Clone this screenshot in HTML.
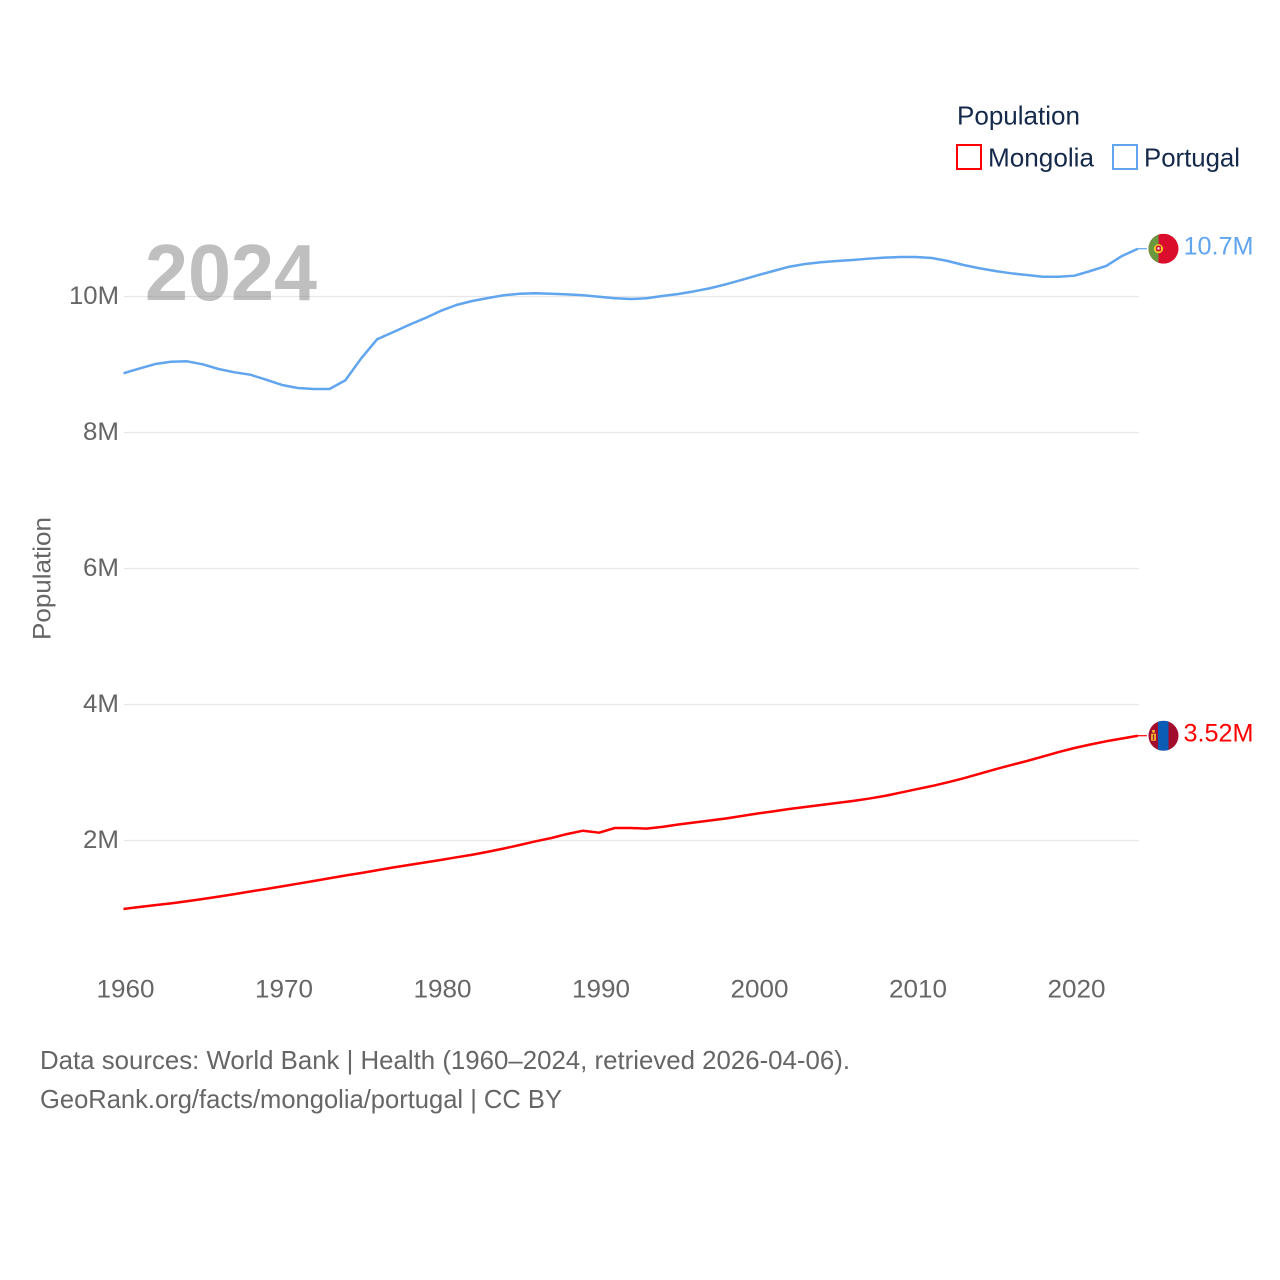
<!DOCTYPE html>
<html lang="en">
<head>
<meta charset="utf-8">
<title>Population: Mongolia and Portugal</title>
<style>
html,body{margin:0;padding:0;background:#fff;width:1280px;height:1280px;overflow:hidden}
svg{display:block;font-family:"Liberation Sans",sans-serif}
</style>
</head>
<body>
<svg id="chart" width="1280" height="1280" viewBox="0 0 1280 1280" xmlns="http://www.w3.org/2000/svg">
  <defs>
    <clipPath id="clip-pt"><circle cx="15" cy="15" r="15"/></clipPath>
    <clipPath id="clip-mn"><circle cx="15" cy="15" r="15"/></clipPath>
  </defs>
  <rect width="1280" height="1280" fill="#fff"/>
  <g id="grid"></g>
  <g id="yticks"></g>
  <g id="xticks"></g>
  <text transform="translate(50.5,640) rotate(-90)" font-size="25" fill="#666" textLength="123" lengthAdjust="spacingAndGlyphs">Population</text>
  <g id="series"></g>
  <text x="145" y="300" font-size="80" font-weight="700" fill="#808080" fill-opacity="0.5" textLength="172" lengthAdjust="spacingAndGlyphs">2024</text>

  <g>
    <text x="957" y="124.5" font-size="26" fill="#15294b" textLength="123" lengthAdjust="spacingAndGlyphs">Population</text>
    <g>
      <rect x="957" y="145" width="24" height="24" fill="none" stroke="#ff0000" stroke-width="2"/>
      <text x="988" y="166.5" font-size="26" fill="#15294b" textLength="106" lengthAdjust="spacingAndGlyphs">Mongolia</text>
    </g>
    <g>
      <rect x="1113" y="145" width="24" height="24" fill="none" stroke="#60a5ee" stroke-width="2"/>
      <text x="1144" y="166.5" font-size="26" fill="#15294b" textLength="96" lengthAdjust="spacingAndGlyphs">Portugal</text>
    </g>
  </g>

  <g id="flag-portugal">
    <g clip-path="url(#clip-pt)">
      <rect width="30" height="30" fill="#da0d2c"/>
      <rect width="10" height="30" fill="#6a983f"/>
      <circle cx="10" cy="15" r="4.6" fill="#f7c72d"/>
      <rect x="7.6" y="12" width="4.8" height="5.6" rx="1.4" fill="#c8102e"/>
      <rect x="9" y="13.6" width="2" height="2.2" fill="#fff"/>
    </g>
  </g>
  <g id="flag-mongolia">
    <g clip-path="url(#clip-mn)">
      <rect width="30" height="30" fill="#a30d2d"/>
      <rect x="9.5" width="10.5" height="30" fill="#0b5cb5"/>
      <rect x="2.6" y="13" width="4.8" height="7" fill="#f2b632"/>
      <rect x="4.4" y="14" width="1.2" height="5" fill="#a30d2d"/>
      <circle cx="5" cy="10.5" r="1.5" fill="#f2b632"/>
    </g>
  </g>

  <g id="labels"></g>

  <g>
    <text x="40" y="1069" font-size="26" fill="#666" textLength="810" lengthAdjust="spacingAndGlyphs">Data sources: World Bank | Health (1960–2024, retrieved 2026-04-06).</text>
    <text x="40" y="1108" font-size="26" fill="#666" textLength="522" lengthAdjust="spacingAndGlyphs">GeoRank.org/facts/mongolia/portugal | CC BY</text>
  </g>
</svg>

<script>
const startYear = 1960;
const xTickYears = [1960, 1970, 1980, 1990, 2000, 2010, 2020];
const yTickValues = [2, 4, 6, 8, 10];
const yTickLabels = ["2M", "4M", "6M", "8M", "10M"];
const portugalValues = [
  8.871, 8.941, 9.007, 9.041, 9.047, 9.003, 8.934, 8.885, 8.85, 8.776,
  8.699, 8.654, 8.64, 8.64, 8.768, 9.091, 9.371, 9.474, 9.581, 9.679,
  9.787, 9.875, 9.934, 9.978, 10.018, 10.041, 10.047, 10.041, 10.032, 10.018,
  9.997, 9.974, 9.963, 9.974, 10.007, 10.037, 10.076, 10.121, 10.179, 10.243,
  10.312, 10.375, 10.438, 10.478, 10.503, 10.522, 10.537, 10.556, 10.571, 10.581,
  10.581, 10.566, 10.522, 10.463, 10.415, 10.375, 10.341, 10.316, 10.291, 10.291,
  10.306, 10.375, 10.449, 10.596, 10.703
];
const mongoliaValues = [
  0.993, 1.022, 1.049, 1.076, 1.106, 1.14, 1.175, 1.212, 1.25, 1.287,
  1.325, 1.365, 1.405, 1.445, 1.485, 1.522, 1.563, 1.603, 1.64, 1.676,
  1.713, 1.753, 1.791, 1.835, 1.882, 1.934, 1.988, 2.037, 2.096, 2.144,
  2.115, 2.184, 2.184, 2.174, 2.201, 2.235, 2.265, 2.294, 2.324, 2.36,
  2.397, 2.429, 2.463, 2.493, 2.522, 2.551, 2.581, 2.615, 2.654, 2.703,
  2.753, 2.801, 2.856, 2.915, 2.981, 3.047, 3.11, 3.169, 3.235, 3.301,
  3.36, 3.412, 3.459, 3.5, 3.541
];
const portugalLabel = "10.7M";
const mongoliaLabel = "3.52M";

const NS = "http://www.w3.org/2000/svg";
function xScale(year) { return 123.5 + (year - 1960) * 15.85; }
function yScale(value) { return 296.5 + (10 - value) * 68; }
function make(tag, attrs, parent) {
  const el = document.createElementNS(NS, tag);
  for (const k in attrs) el.setAttribute(k, attrs[k]);
  parent.appendChild(el);
  return el;
}

const gridG = document.getElementById("grid");
const yG = document.getElementById("yticks");
const xG = document.getElementById("xticks");
const seriesG = document.getElementById("series");
const labelsG = document.getElementById("labels");
const lastYear = startYear + portugalValues.length - 1;

yTickValues.forEach(function (v, i) {
  const y = yScale(v);
  const line = make("line", { x1: 124, x2: xScale(lastYear) + 1, y1: y, y2: y, stroke: "#e6e6e6", "stroke-width": 1.3 }, gridG);
  
  
  const t = make("text", { x: 119, y: y + 7.5, "text-anchor": "end", "font-size": 25, fill: "#666", textLength: yTickLabels[i].length === 3 ? 50 : 36, lengthAdjust: "spacingAndGlyphs" }, yG);
  t.textContent = yTickLabels[i];
  
  
});

xTickYears.forEach(function (yr) {
  const t = make("text", { x: xScale(yr) + 2, y: 997.5, "text-anchor": "middle", "font-size": 25, fill: "#666", textLength: 58, lengthAdjust: "spacingAndGlyphs" }, xG);
  t.textContent = String(yr);
  
  
});

function drawSeries(values, color, name, labelText, labelWidth, flagId) {
  const pts = values.map(function (v, i) {
    return xScale(startYear + i).toFixed(2) + "," + yScale(v).toFixed(2);
  }).join(" ");
  const line = make("polyline", { points: pts, fill: "none", stroke: color, "stroke-width": 2.5, "stroke-linejoin": "round" }, seriesG);
  
  

  const endX = xScale(lastYear);
  const endY = yScale(values[values.length - 1]);
  const leader = make("line", { x1: endX, x2: endX + 9, y1: endY, y2: endY, stroke: color, "stroke-width": 1.2 }, seriesG);
  
  

  document.getElementById(flagId).setAttribute("transform", "translate(" + (endX + 10.6) + "," + (endY - 15) + ")");

  const label = make("text", { x: 1253.5, y: endY + 6, "text-anchor": "end", "font-size": 25, fill: color, textLength: labelWidth, lengthAdjust: "spacingAndGlyphs" }, labelsG);
  label.textContent = labelText;
  
  
}

drawSeries(portugalValues, "#60a5ee", "portugal", portugalLabel, 70, "flag-portugal");
drawSeries(mongoliaValues, "#ff0000", "mongolia", mongoliaLabel, 70, "flag-mongolia");
</script>
</body>
</html>
